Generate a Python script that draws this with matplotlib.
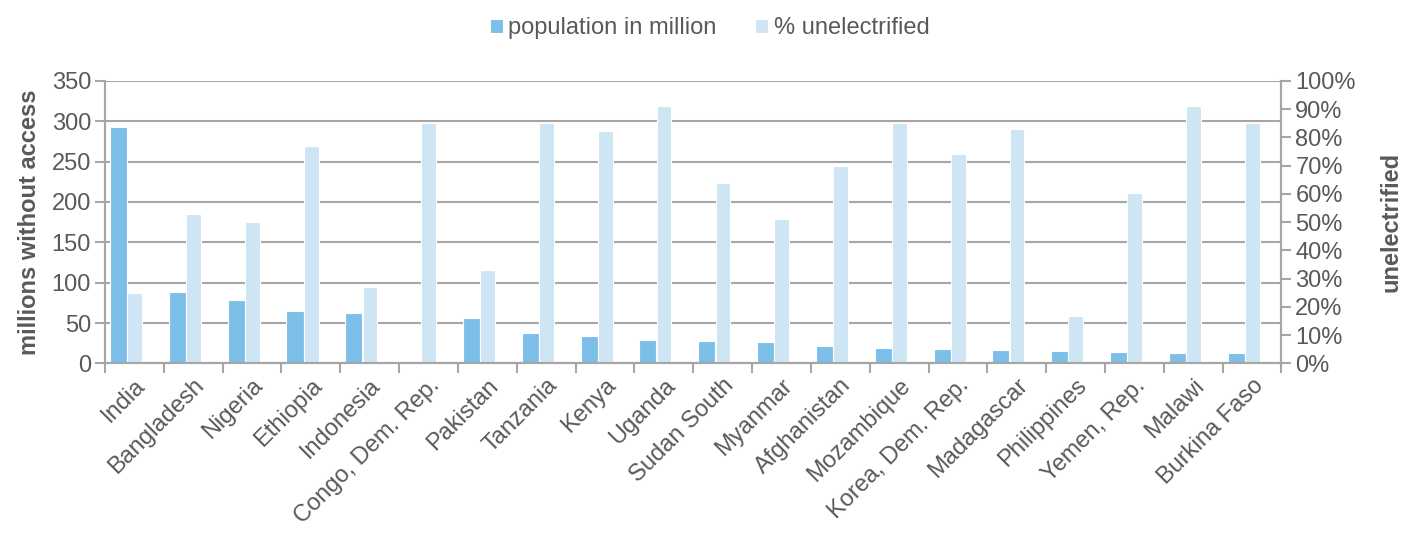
import matplotlib
matplotlib.use("Agg")
import matplotlib.pyplot as plt
from matplotlib.ticker import PercentFormatter
import numpy as np

plt.rcParams['font.family'] = ['Liberation Sans', 'DejaVu Sans']

countries = ["India", "Bangladesh", "Nigeria", "Ethiopia", "Indonesia",
             "Congo, Dem. Rep.", "Pakistan", "Tanzania", "Kenya", "Uganda",
             "Sudan South", "Myanmar", "Afghanistan", "Mozambique",
             "Korea, Dem. Rep.", "Madagascar", "Philippines", "Yemen, Rep.",
             "Malawi", "Burkina Faso"]
population = [293, 88, 79, 65, 62, 0, 56, 37.5, 34, 29, 27.6, 26, 21.4, 19.3,
              17.3, 16.5, 15.2, 14.4, 12.4, 12.4]
unelectrified = [25.1, 52.8, 49.9, 77.1, 27.0, 85.1, 33.0, 85.1, 82.2, 91.2,
                 63.9, 51.0, 69.9, 85.1, 74.1, 82.9, 16.7, 60.2, 91.2, 85.1]

dark = "#7CBFE8"
light = "#CEE5F4"
grid = "#A6A6A6"
txt = "#595959"
fs = 17

fig = plt.figure(figsize=(14.02, 5.36), dpi=100)
ax = fig.add_axes([0.0749, 0.322, 0.8391, 0.527])
ax2 = ax.twinx()

x = np.arange(len(countries))
ax.bar(x + 0.085, population, width=0.29, align='edge', color=dark,
       edgecolor='white', linewidth=0.8, zorder=2, label="population in million")
ax2.bar(x + 0.38, [v / 100 for v in unelectrified], width=0.25, align='edge',
        color=light, edgecolor='white', linewidth=0.8, zorder=2, label="% unelectrified")

ax.set_xlim(0, len(countries))
ax.set_ylim(0, 350)
ax.set_yticks(range(0, 351, 50))
ax.yaxis.grid(True, color=grid, linewidth=1.5, zorder=0)
ax.set_axisbelow(True)
ax2.set_ylim(0, 1)
ax2.set_yticks(np.arange(0, 1.01, 0.1))
ax2.yaxis.set_major_formatter(PercentFormatter(1.0, decimals=0))

ax.set_xticks(np.arange(0, len(countries) + 1))
ax.set_xticklabels([])
ax.set_xticks(x + 0.5, minor=True)
ax.set_xticklabels(countries, minor=True, rotation=45, ha='right',
                   rotation_mode='anchor', fontsize=fs, color=txt)
ax.tick_params(axis='x', which='minor', length=0, pad=8)
ax.tick_params(axis='x', which='major', length=7, width=1.5, color=grid)
ax.tick_params(axis='y', length=7, width=1.5, color=grid, labelsize=fs,
               labelcolor=txt, pad=3)
ax2.tick_params(axis='y', length=7, width=1.5, color=grid, labelsize=fs,
                labelcolor=txt, pad=3)

for a in (ax, ax2):
    for s in a.spines.values():
        s.set_color(grid)
        s.set_linewidth(1.5)
    a.spines['top'].set_visible(False)

ax.set_ylabel("millions without access", fontsize=fs, fontweight='bold', color=txt, labelpad=8)
ax2.set_ylabel("unelectrified", fontsize=fs, fontweight='bold', color=txt, labelpad=17)

h1, l1 = ax.get_legend_handles_labels()
h2, l2 = ax2.get_legend_handles_labels()
leg = fig.legend(h1 + h2, l1 + l2, loc='center', bbox_to_anchor=(0.506, 0.947),
                 ncol=2, frameon=False, fontsize=fs, handlelength=0.55,
                 handleheight=0.55, handletextpad=0.25, columnspacing=1.6)
for t in leg.get_texts():
    t.set_color(txt)

fig.savefig("out.png", dpi=100)
